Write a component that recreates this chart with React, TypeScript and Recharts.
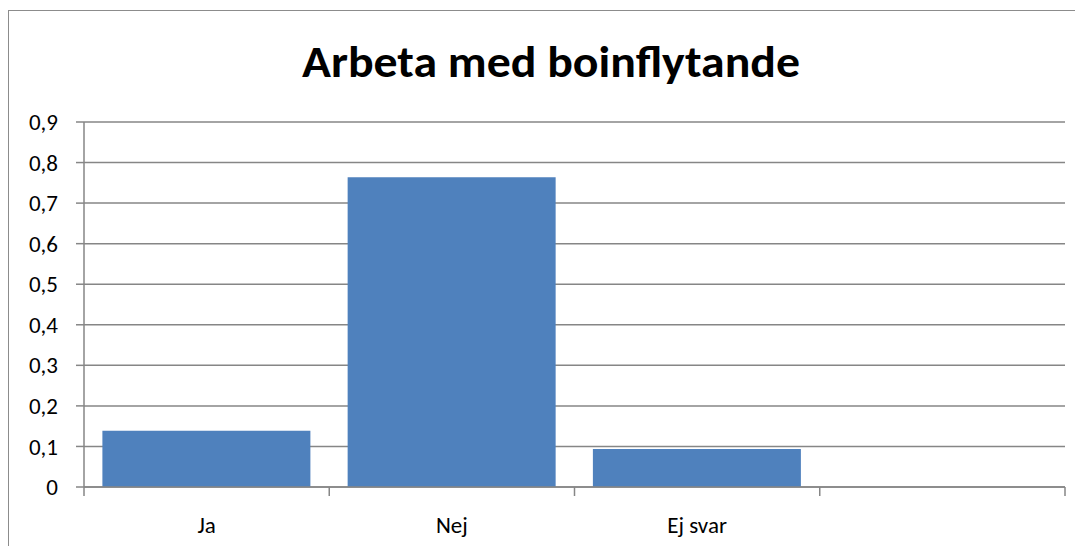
import React from 'react';
import { BarChart, Bar, XAxis, YAxis, CartesianGrid } from 'recharts';

const categories = ['Ja', 'Nej', 'Ej svar', ''];
const shares = [0.139, 0.764, 0.094, null];
const yTicks = [0, 0.1, 0.2, 0.3, 0.4, 0.5, 0.6, 0.7, 0.8, 0.9];
const edgeTicks = [0, 1, 2, 3, 4];

const data = categories.map((name, i) => ({ name, value: shares[i], pos: i + 0.5 }));

const FONT = 'Carlito, Lato, "Open Sans", sans-serif';
const GRID = '#868686';

const fmt = (v: number) => (v === 0 ? '0' : v.toFixed(1).replace('.', ','));

const App: React.FC = () => {
  return (
    <div
      style={{
        position: 'relative',
        marginTop: 2,
        width: 1075,
        height: 536,
        border: '1px solid #8c8c8c',
        background: '#fff',
        fontFamily: FONT,
      }}
    >
      <svg width={1075} height={100} style={{ position: 'absolute', left: 0, top: 0 }}>
        <text
          x={542}
          y={66}
          textAnchor="middle"
          fontFamily={FONT}
          fontWeight={700}
          fontSize={44}
          textLength={498}
          lengthAdjust="spacingAndGlyphs"
          fill="#000"
        >
          Arbeta med boinflytande
        </text>
      </svg>
      <BarChart
        width={1075}
        height={536}
        data={data}
        margin={{ top: 111, right: 19, left: 0, bottom: 0 }}
        barCategoryGap="7.5%"
      >
        <CartesianGrid vertical={false} stroke={GRID} strokeWidth={1.5} xAxisId="b" />
        <XAxis
          xAxisId="a"
          type="number"
          dataKey="pos"
          domain={[0, 4]}
          ticks={edgeTicks}
          height={1}
          tickSize={9}
          stroke={GRID}
          strokeWidth={1.5}
          tickFormatter={() => ''}
          allowDataOverflow
        />
        <XAxis
          xAxisId="b"
          dataKey="name"
          height={59}
          axisLine={false}
          tickLine={false}
          tickMargin={23}
          tick={{ fill: '#000', fontSize: 23, fontFamily: FONT }}
        />
        <YAxis
          domain={[0, 0.9]}
          ticks={yTicks}
          width={75}
          tickSize={8}
          tickMargin={18}
          stroke={GRID}
          strokeWidth={1.5}
          tickFormatter={fmt}
          tick={{ fill: '#000', fontSize: 23, fontFamily: FONT }}
        />
        <Bar xAxisId="b" dataKey="value" fill="#4f81bd" isAnimationActive={false} />
      </BarChart>
    </div>
  );
};

export default App;
